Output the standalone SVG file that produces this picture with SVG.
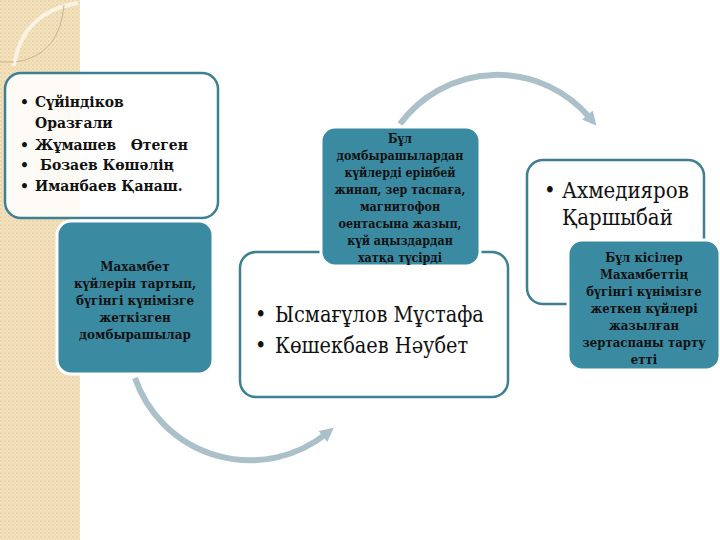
<svg xmlns="http://www.w3.org/2000/svg" width="720" height="540" viewBox="0 0 720 540">
<defs>
<pattern id="tex" width="4" height="4" patternUnits="userSpaceOnUse">
<rect width="4" height="4" fill="#f3e2bf"/>
<rect width="2" height="2" fill="#ead4a8"/>
<rect x="2" y="2" width="2" height="2" fill="#efdcb5"/>
</pattern>
<marker id="ah" markerUnits="userSpaceOnUse" markerWidth="16" markerHeight="16" refX="4" refY="8" orient="auto">
<path d="M0,1 L14,8 L0,15 Z" fill="#abc0c9"/>
</marker>
<style>
.wbox{fill:#ffffff;fill-opacity:0.88;stroke:#3c8092;stroke-width:2.5}
.tbox{fill:#3a8aa2;stroke:#ffffff;stroke-width:3}
.conn{fill:none;stroke:#abc0c9;stroke-width:6}
.bt{font-family:"DejaVu Serif Condensed","DejaVu Serif",serif;font-stretch:condensed;font-weight:bold;fill:#111111}
.rt{font-family:"DejaVu Serif Condensed","DejaVu Serif",serif;font-stretch:condensed;fill:#111111}
</style>
</defs>
<rect width="720" height="540" fill="#ffffff"/>
<g id="background">
<rect x="0" y="0" width="80" height="540" fill="url(#tex)"/>
<path d="M14,66 Q22,12 78,3" fill="none" stroke="#faf2e2" stroke-width="4"/>
<path d="M16,62 Q60,55 64,5" fill="none" stroke="#cdb58a" stroke-width="1"/>
<path d="M0,62 L14,62" fill="none" stroke="#cdb58a" stroke-width="1"/>
</g>
<g id="connectors">
<path class="conn" d="M135,378 A122,122 0 0 0 326,434" marker-end="url(#ah)"/>
<path class="conn" d="M400,124 A121,121 0 0 1 590,118" marker-end="url(#ah)"/>
</g>
<g id="node-list1">
<rect class="wbox" x="5" y="73" width="213" height="145" rx="16"/>
<text class="bt" font-size="15.5"><tspan x="20" y="107">•</tspan><tspan x="35" y="107">Сүйіндіков</tspan><tspan x="35" y="128">Оразғали</tspan><tspan x="20" y="150">•</tspan><tspan x="35" y="150">Жұмашев&#160;&#160;&#160;Өтеген</tspan><tspan x="20" y="170">•</tspan><tspan x="40" y="170">Бозаев Көшәлің</tspan><tspan x="20" y="191">•</tspan><tspan x="35" y="191">Иманбаев Қанаш.</tspan></text>
</g>
<g id="node-note1">
<rect class="tbox" x="57" y="221" width="156" height="153" rx="14"/>
<text class="bt" font-size="13.3" text-anchor="middle"><tspan x="135" y="271">Махамбет</tspan><tspan x="135" y="288">күйлерін тартып,</tspan><tspan x="135" y="305">бүгінгі күнімізге</tspan><tspan x="135" y="322">жеткізген</tspan><tspan x="135" y="339">домбырашылар</tspan></text>
</g>
<g id="node-list2">
<rect class="wbox" x="240" y="252" width="268" height="145" rx="16"/>
<text class="rt" font-size="21.5"><tspan x="255" y="322">•</tspan><tspan x="275" y="322">Ысмағұлов Мұстафа</tspan><tspan x="255" y="353">•</tspan><tspan x="275" y="353">Көшекбаев Нәубет</tspan></text>
</g>
<g id="node-note2">
<rect class="tbox" x="321" y="127" width="159" height="139" rx="14"/>
<text class="bt" font-size="12.4" text-anchor="middle"><tspan x="400" y="143">Бұл</tspan><tspan x="400" y="160">домбырашылардан</tspan><tspan x="400" y="177">күйлерді ерінбей</tspan><tspan x="400" y="194">жинап, зер таспаға,</tspan><tspan x="400" y="211">магнитофон</tspan><tspan x="400" y="228">оентасына жазып,</tspan><tspan x="400" y="245">күй аңыздардан</tspan><tspan x="400" y="262">хатқа түсірді</tspan></text>
</g>
<g id="node-list3">
<rect class="wbox" x="527" y="160" width="177" height="144" rx="16"/>
<text class="rt" font-size="22"><tspan x="544" y="198">•</tspan><tspan x="562" y="198">Ахмедияров</tspan><tspan x="562" y="225">Қаршыбай</tspan></text>
</g>
<g id="node-note3">
<rect class="tbox" x="568" y="240" width="152" height="130" rx="14"/>
<text class="bt" font-size="13" text-anchor="middle"><tspan x="644" y="262">Бұл кісілер</tspan><tspan x="644" y="279">Махамбеттің</tspan><tspan x="644" y="296">бүгінгі күнімізге</tspan><tspan x="644" y="313">жеткен күйлері</tspan><tspan x="644" y="330">жазылған</tspan><tspan x="644" y="347">зертаспаны тарту</tspan><tspan x="644" y="364">етті</tspan></text>
</g>
</svg>
